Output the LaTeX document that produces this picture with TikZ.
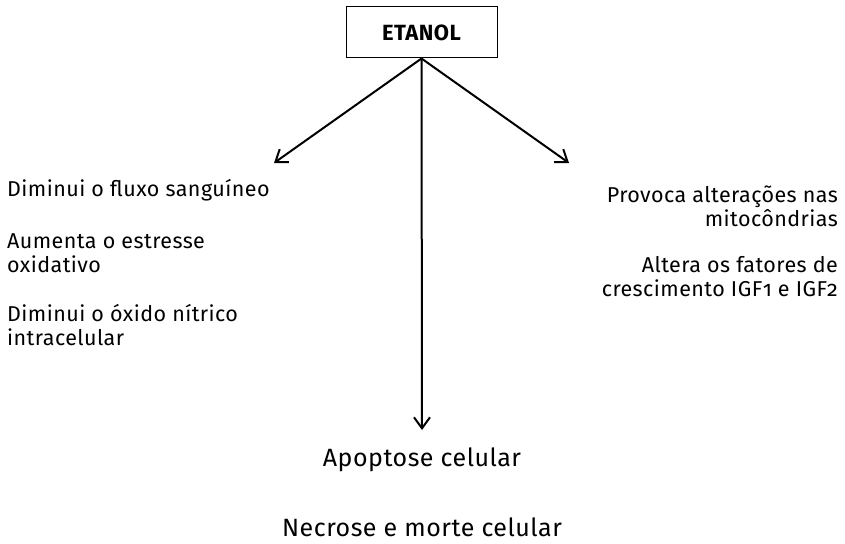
\documentclass[tikz,border=0pt]{standalone}
\usepackage{fontspec}
\setmainfont[Numbers=OldStyle, LetterSpace=2]{Fira Sans}
\usetikzlibrary{arrows.meta}
\tikzset{
	seta/.style={line width=2pt, -{Straight Barb[length=11pt, width=16pt, line width=2pt]}},
	texto/.style={inner sep=0pt, font=\fontsize{21.5}{24}\selectfont},
}

\begin{document}
\begin{tikzpicture}[x=1pt, y=-1pt]
		%%%%% START %%%%%
		
		\useasboundingbox (0, 0) rectangle (845, 543);
		
		\node[draw, line width=1pt, minimum width=151pt, minimum height=51pt, font=\fontsize{22}{26}\selectfont\bfseries] (etanol) at (421.5, 32.5) {ETANOL};
		
		\coordinate (esq) at (274, 163);
		\coordinate (dir) at (569, 163);
		\coordinate (baixo) at (422, 430);
		
		\draw[seta] (etanol.south) -- (esq);
		\draw[seta] (etanol.south) -- (dir);
		\draw[seta] (etanol.south) -- (baixo);
		
		\node[texto, anchor=west, align=left] (fluxo) at (7, 190) {Diminui o fluxo sanguíneo};
		\node[texto, anchor=west, align=left] (estresse) at (7, 253) {Aumenta o estresse\\oxidativo};
		\node[texto, anchor=west, align=left] (oxido) at (7, 325) {Diminui o óxido nítrico\\intracelular};
		
		\node[texto, anchor=east, align=right] (mito) at (838, 206) {Provoca alterações nas\\mitocôndrias};
		\node[texto, anchor=east, align=right] (igf) at (838, 277) {Altera os fatores de\\crescimento IGF1 e IGF2};
		
		\node[texto, font=\fontsize{25}{29}\selectfont] (apoptose) at (422, 460) {Apoptose celular};
		\node[texto, font=\fontsize{25}{29}\selectfont] (necrose) at (422, 527) {Necrose e morte celular};
		
		%%%%% END %%%%%
	\end{tikzpicture}
\end{document}
